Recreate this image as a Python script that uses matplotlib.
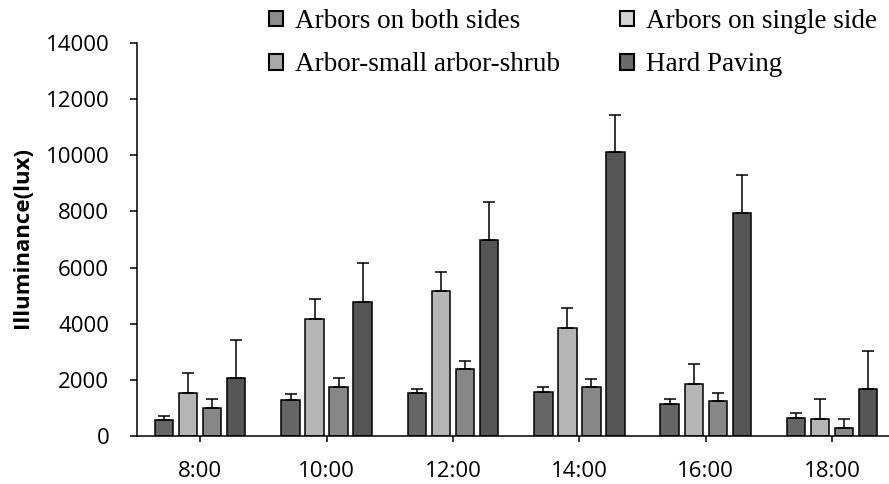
import matplotlib
matplotlib.use("Agg")
import matplotlib.pyplot as plt
import numpy as np
from matplotlib.patches import Patch

times = ["8:00", "10:00", "12:00", "14:00", "16:00", "18:00"]
series = ["Arbors on both sides", "Arbors on single side",
          "Arbor-small arbor-shrub", "Hard Paving"]
both_sides = [570, 1300, 1520, 1580, 1130, 630]
both_sides_err = [140, 180, 160, 180, 180, 180]
single_side = [1540, 4180, 5150, 3840, 1840, 610]
single_side_err = [720, 700, 700, 710, 710, 710]
shrub = [1000, 1760, 2400, 1760, 1250, 300]
shrub_err = [320, 290, 280, 270, 270, 300]
hard = [2070, 4780, 6970, 10100, 7940, 1680]
hard_err = [1360, 1370, 1350, 1340, 1340, 1360]

values = [both_sides, single_side, shrub, hard]
errors = [both_sides_err, single_side_err, shrub_err, hard_err]
bar_colors = ["#666666", "#b5b5b5", "#878787", "#555555"]
legend_colors = ["#8c8c8c", "#d4d4d4", "#a9a9a9", "#6a6a6a"]

fig = plt.figure(figsize=(8.89, 4.84), dpi=100)
ax = fig.add_axes([137/889, 48/484, 1 - 137/889, (436-43)/484])

x = np.arange(len(times))
step = 0.19
width = 0.146
for i, (v, e, c) in enumerate(zip(values, errors, bar_colors)):
    pos = x + (i - 1.5) * step
    ax.bar(pos, v, width=width, color=c, edgecolor="black", linewidth=1.1, zorder=2)
    ax.errorbar(pos, v, yerr=[np.zeros(len(e)), e], fmt="none", ecolor="black",
                elinewidth=1.1, capsize=4, capthick=1.1, zorder=3)

ax.set_xlim(-0.5, 5.45)
ax.set_ylim(0, 14000)
ax.set_yticks(np.arange(0, 14001, 2000))
ax.set_xticks(x)
ax.set_xticklabels(times)
for s in ["top", "right"]:
    ax.spines[s].set_visible(False)
ax.spines["left"].set_linewidth(1.1)
ax.spines["bottom"].set_linewidth(1.1)
ax.tick_params(axis="y", direction="out", length=5, width=1.1, labelsize=16, pad=15)
ax.tick_params(axis="x", direction="out", length=4, width=1.1, labelsize=16, pad=14)
for lab in ax.get_xticklabels() + ax.get_yticklabels():
    lab.set_family(["Open Sans", "DejaVu Sans"])
ax.set_ylabel("Illuminance(lux)", fontsize=16, fontweight="bold",
              family=["Open Sans", "DejaVu Sans"])
ax.yaxis.set_label_coords(-0.138, 0.504)

handles = [Patch(facecolor=legend_colors[i], edgecolor="black", linewidth=1.5)
           for i in range(4)]
order = [0, 2, 1, 3]
leg = fig.legend([handles[i] for i in order], [series[i] for i in order],
                 ncol=2, loc="upper left", bbox_to_anchor=(269/889, 1 - 9/484),
                 frameon=False, prop={"family": "Liberation Serif", "size": 19.5},
                 handlelength=0.52, handleheight=0.52, handletextpad=0.44,
                 columnspacing=2.2, labelspacing=0.68, borderaxespad=0.0,
                 borderpad=0.0)

fig.savefig("out.png", dpi=100)
